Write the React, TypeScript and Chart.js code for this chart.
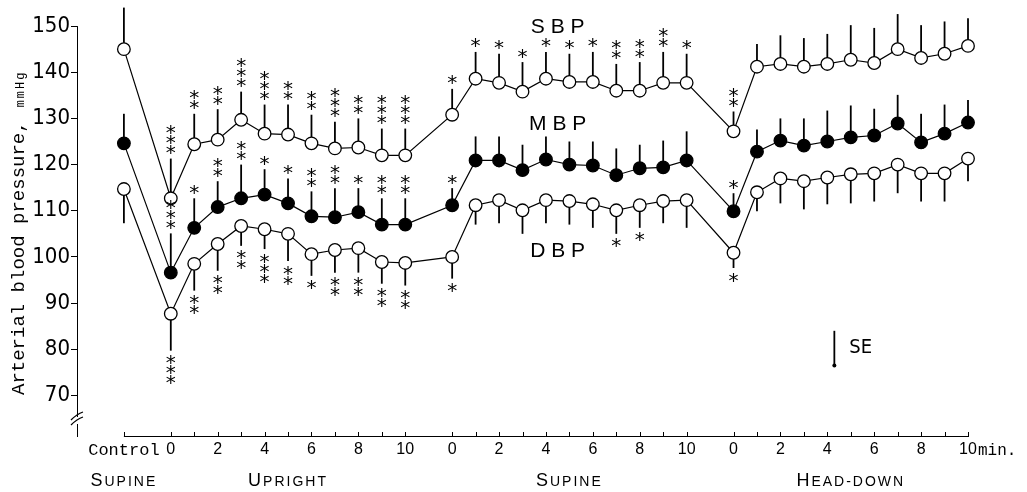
import React, { useEffect, useRef } from "react";
import { Chart, registerables } from "chart.js";

Chart.register(...registerables);

// ---- data ----
// x positions: Control, Upright 0..10, Supine 0..10, Head-down 0..10 (minutes, phases separated by a gap)
const xValues = [
  -2,
  0, 1, 2, 3, 4, 5, 6, 7, 8, 9, 10,
  12, 13, 14, 15, 16, 17, 18, 19, 20, 21, 22,
  24, 25, 26, 27, 28, 29, 30, 31, 32, 33, 34,
];
const tickLabels = [
  "Control",
  "0", "", "2", "", "4", "", "6", "", "8", "", "10",
  "0", "", "2", "", "4", "", "6", "", "8", "", "10",
  "0", "", "2", "", "4", "", "6", "", "8", "", "10",
];
const yTicks = [70, 80, 90, 100, 110, 120, 130, 140, 150];

const sbp = [
  145.0,
  112.7, 124.4, 125.4, 129.7, 126.7, 126.5, 124.6, 123.5, 123.7, 122.0, 122.0,
  130.8, 138.6, 137.7, 135.8, 138.6, 137.9, 137.9, 136.0, 136.0, 137.7, 137.7,
  127.2, 141.2, 141.8, 141.2, 141.8, 142.7, 142.0, 145.0, 143.1, 144.0, 145.7,
];
const sbpSE = [
  9.0,
  8.6, 6.6, 6.6, 6.1, 6.3, 6.5, 6.2, 5.8, 6.3, 5.8, 5.8,
  5.6, 5.8, 6.3, 6.4, 5.8, 6.1, 6.5, 5.8, 6.2, 6.7, 6.3,
  4.3, 4.9, 6.2, 6.2, 6.5, 7.5, 7.6, 7.6, 7.1, 7.0, 6.0,
];
const sbpStars = [
  0,
  3, 2, 2, 3, 3, 2, 2, 3, 2, 3, 3,
  1, 1, 1, 1, 1, 1, 1, 2, 2, 2, 1,
  2, 0, 0, 0, 0, 0, 0, 0, 0, 0, 0,
];

const mbp = [
  124.6,
  96.6, 106.3, 110.8, 112.7, 113.5, 111.6, 108.8, 108.6, 109.7, 107.0, 107.0,
  111.2, 120.9, 120.9, 118.8, 121.1, 120.0, 119.8, 117.7, 119.2, 119.4, 120.9,
  109.9, 122.8, 125.2, 124.1, 125.0, 125.9, 126.3, 128.9, 124.8, 126.7, 129.1,
];
const mbpSE = [
  6.4,
  8.5, 6.4, 5.6, 7.3, 5.5, 5.4, 5.4, 6.3, 5.2, 5.7, 5.7,
  3.7, 5.2, 5.2, 5.5, 5.0, 5.0, 5.2, 5.8, 5.1, 5.8, 6.3,
  3.9, 4.8, 4.8, 5.9, 6.7, 6.9, 5.8, 6.2, 6.2, 6.3, 4.9,
];
const mbpStars = [
  0,
  3, 1, 2, 2, 1, 1, 2, 2, 1, 2, 2,
  1, 0, 0, 0, 0, 0, 0, 0, 0, 0, 0,
  1, 0, 0, 0, 0, 0, 0, 0, 0, 0, 0,
];

const dbp = [
  114.7,
  87.7, 98.5, 102.8, 106.7, 106.0, 105.0, 100.6, 101.5, 101.9, 98.9, 98.7,
  100.0, 111.2, 112.3, 110.1, 112.3, 112.1, 111.4, 110.1, 111.2, 112.1, 112.3,
  100.9, 114.0, 117.0, 116.4, 117.2, 117.9, 118.1, 120.0, 118.1, 118.1, 121.3,
];
const dbpSE = [
  7.4,
  8.0, 5.8, 5.8, 4.3, 4.3, 5.9, 4.7, 4.9, 5.3, 4.7, 4.9,
  4.7, 4.2, 5.0, 5.1, 5.0, 5.1, 5.1, 5.1, 4.9, 4.8, 6.0,
  3.3, 4.1, 5.4, 6.1, 5.8, 6.3, 6.1, 6.2, 6.1, 6.1, 4.9,
];
const dbpStars = [
  0,
  3, 2, 2, 2, 3, 2, 1, 2, 2, 2, 2,
  1, 0, 0, 0, 0, 0, 0, 1, 1, 0, 0,
  1, 0, 0, 0, 0, 0, 0, 0, 0, 0, 0,
];

const phaseNames = ["SUPINE", "UPRIGHT", "SUPINE", "HEAD-DOWN"];
const phaseCenters = [-2, 5, 17, 29];
const seriesNames = ["S B P", "M B P", "D B P"];
const seriesNameY = [149.8, 128.7, 101.3];
const seriesNameX = 16.5;
const seLegend = { x: 28.3, from: 76.5, to: 84.0, label: "SE" };

const SANS = "'Liberation Sans', Arial, sans-serif";
const NARROW = "'Liberation Sans Narrow', 'DejaVu Sans Condensed', 'Liberation Sans', sans-serif";
const MONO = "'Liberation Mono', 'DejaVu Sans Mono', monospace";

const seriesDefs = [
  { values: sbp, se: sbpSE, stars: sbpStars, dir: 1 },
  { values: mbp, se: mbpSE, stars: mbpStars, dir: 1 },
  { values: dbp, se: dbpSE, stars: dbpStars, dir: -1 },
];

const toPoints = (vals: number[]) => vals.map((v, i) => ({ x: xValues[i], y: v }));

const errorBarPlugin = {
  id: "errorBars",
  beforeDatasetsDraw(chart: any) {
    const { ctx, scales } = chart;
    const x = scales.x, y = scales.y;
    ctx.save();
    ctx.strokeStyle = "#000";
    ctx.lineWidth = 1.8;
    seriesDefs.forEach((s) => {
      s.values.forEach((v, i) => {
        const px = x.getPixelForValue(xValues[i]);
        const end = v + s.dir * s.se[i];
        ctx.beginPath();
        ctx.moveTo(px, y.getPixelForValue(v));
        ctx.lineTo(px, y.getPixelForValue(end));
        ctx.stroke();
      });
    });
    ctx.restore();
  },
  afterDatasetsDraw(chart: any) {
    const { ctx, scales } = chart;
    const x = scales.x, y = scales.y;
    ctx.save();
    ctx.fillStyle = "#000";
    ctx.font = `20px 'DejaVu Sans', sans-serif`;
    ctx.textAlign = "center";
    ctx.textBaseline = "alphabetic";
    const m = ctx.measureText("*");
    const off = (m.actualBoundingBoxAscent - m.actualBoundingBoxDescent) / 2;
    seriesDefs.forEach((s) => {
      s.values.forEach((v, i) => {
        const n = s.stars[i];
        if (!n) return;
        const px = x.getPixelForValue(xValues[i]);
        const endPx = y.getPixelForValue(v + s.dir * s.se[i]);
        for (let k = 0; k < n; k++) {
          const cy = endPx - s.dir * (9 + k * 10);
          ctx.fillText("*", px, cy + off);
        }
      });
    });
    ctx.restore();
  },
  afterDraw(chart: any) {
    const { ctx, scales } = chart;
    const x = scales.x, y = scales.y;
    const bottom = chart.chartArea.bottom;
    const left = chart.chartArea.left;
    ctx.save();
    ctx.strokeStyle = "#000";
    ctx.fillStyle = "#000";
    ctx.lineWidth = 1;

    // y axis line with break
    const yTop = y.getPixelForValue(yTicks[yTicks.length - 1]);
    const brk = bottom - 17;
    ctx.beginPath();
    ctx.moveTo(left + 0.5, yTop);
    ctx.lineTo(left + 0.5, brk - 3);
    ctx.moveTo(left + 0.5, brk + 4);
    ctx.lineTo(left + 0.5, bottom);
    ctx.stroke();
    ctx.lineWidth = 1.3;
    ctx.beginPath();
    ctx.moveTo(left - 6, brk);
    ctx.quadraticCurveTo(left, brk - 6, left + 6, brk - 8);
    ctx.moveTo(left - 6, brk + 5);
    ctx.quadraticCurveTo(left, brk - 1, left + 6, brk - 3);
    ctx.stroke();

    // x axis line and tick marks
    ctx.lineWidth = 1;
    const x0 = x.getPixelForValue(xValues[0]);
    const x1 = x.getPixelForValue(xValues[xValues.length - 1]);
    ctx.beginPath();
    ctx.moveTo(x0, bottom - 0.5);
    ctx.lineTo(x1, bottom - 0.5);
    xValues.forEach((v) => {
      const px = Math.round(x.getPixelForValue(v)) + 0.5;
      ctx.moveTo(px, bottom);
      ctx.lineTo(px, bottom - 5);
    });
    ctx.stroke();

    // "min." after last tick label
    ctx.font = `16px ${MONO}`;
    ctx.textAlign = "left";
    ctx.textBaseline = "alphabetic";
    ctx.fillText("min.", x1 + 10, bottom + 18);

    // phase labels (small caps style)
    phaseNames.forEach((name, i) => {
      const cx = x.getPixelForValue(phaseCenters[i]);
      const first = name[0];
      const rest = name.slice(1);
      (ctx as any).letterSpacing = "2px";
      ctx.font = `18px ${SANS}`;
      const w1 = ctx.measureText(first).width;
      ctx.font = `14px ${SANS}`;
      const w2 = ctx.measureText(rest).width;
      const sx = cx - (w1 + w2) / 2;
      ctx.font = `18px ${SANS}`;
      ctx.fillText(first, sx, 486);
      ctx.font = `14px ${SANS}`;
      ctx.fillText(rest, sx + w1, 486);
    });
    (ctx as any).letterSpacing = "0px";

    // series names
    ctx.font = `21px ${SANS}`;
    ctx.textAlign = "center";
    ctx.textBaseline = "middle";
    seriesNames.forEach((n, i) => {
      ctx.fillText(n, x.getPixelForValue(seriesNameX), y.getPixelForValue(seriesNameY[i]));
    });

    // SE legend
    const sx = x.getPixelForValue(seLegend.x);
    const sy0 = y.getPixelForValue(seLegend.to);
    const sy1 = y.getPixelForValue(seLegend.from);
    ctx.lineWidth = 1.8;
    ctx.beginPath();
    ctx.moveTo(sx, sy0);
    ctx.lineTo(sx, sy1);
    ctx.stroke();
    ctx.beginPath();
    ctx.arc(sx, sy1, 2, 0, Math.PI * 2);
    ctx.fill();
    ctx.font = `20px ${NARROW}`;
    ctx.textAlign = "left";
    ctx.fillText(seLegend.label, sx + 15, (sy0 + sy1) / 2);

    // y axis title
    ctx.translate(24, 395);
    ctx.rotate(-Math.PI / 2);
    ctx.textAlign = "left";
    ctx.textBaseline = "alphabetic";
    ctx.font = `19px ${MONO}`;
    const t1 = "Arterial blood pressure,";
    ctx.fillText(t1, 0, 0);
    const w = ctx.measureText(t1).width;
    (ctx as any).letterSpacing = "2px";
    ctx.font = `12px ${MONO}`;
    ctx.fillText("mmHg", w + 14, 0);
    ctx.restore();
  },
};

export default function App() {
  const ref = useRef<HTMLCanvasElement | null>(null);
  useEffect(() => {
    document.body.style.margin = "0";
    const canvas = ref.current;
    if (!canvas) return;
    const mk = (vals: number[], filled: boolean) => ({
      data: toPoints(vals),
      borderColor: "#000",
      borderWidth: 1.2,
      pointRadius: 6.3,
      pointBorderWidth: 1.3,
      pointBorderColor: "#000",
      pointBackgroundColor: filled ? "#000" : "#fff",
      tension: 0,
      fill: false,
      clip: false,
    });
    const chart = new Chart(canvas, {
      type: "line",
      data: {
        datasets: [mk(sbp, false), mk(mbp, true), mk(dbp, false)],
      },
      options: {
        animation: false,
        responsive: false,
        devicePixelRatio: 1,
        layout: { padding: { top: 5, right: 59, bottom: 0, left: 0 } },
        plugins: { legend: { display: false }, tooltip: { enabled: false } },
        scales: {
          x: {
            type: "linear",
            min: -4,
            max: 34,
            grid: { display: false, drawTicks: false },
            border: { display: false },
            afterBuildTicks: (scale: any) => {
              scale.ticks = xValues.map((v) => ({ value: v }));
            },
            afterFit: (scale: any) => {
              scale.height = 55;
              scale.paddingLeft = 0;
              scale.paddingRight = 0;
            },
            ticks: {
              autoSkip: false,
              maxRotation: 0,
              padding: 3,
              color: "#000",
              callback: (_v: any, i: number) => tickLabels[i],
              font: (c: any) =>
                c.index === 0
                  ? { family: MONO, size: 17 }
                  : { family: SANS, size: 16 },
            },
          },
          y: {
            type: "linear",
            min: 61,
            max: 154,
            grid: {
              display: true,
              drawOnChartArea: false,
              drawTicks: true,
              tickLength: 6,
              color: "#000",
              lineWidth: 1,
            },
            border: { display: false },
            afterBuildTicks: (scale: any) => {
              scale.ticks = yTicks.map((v) => ({ value: v }));
            },
            afterFit: (scale: any) => {
              scale.width = 77;
              scale.paddingTop = 0;
              scale.paddingBottom = 0;
            },
            ticks: {
              padding: 1,
              color: "#000",
              font: { family: NARROW, size: 22 },
            },
          },
        },
      },
      plugins: [errorBarPlugin],
    } as any);
    return () => chart.destroy();
  }, []);
  return (
    <div style={{ position: "fixed", left: 0, top: 0, width: 1027, height: 492, background: "#fff" }}>
      <canvas ref={ref} width={1027} height={492} style={{ width: 1027, height: 492, display: "block" }} />
    </div>
  );
}
